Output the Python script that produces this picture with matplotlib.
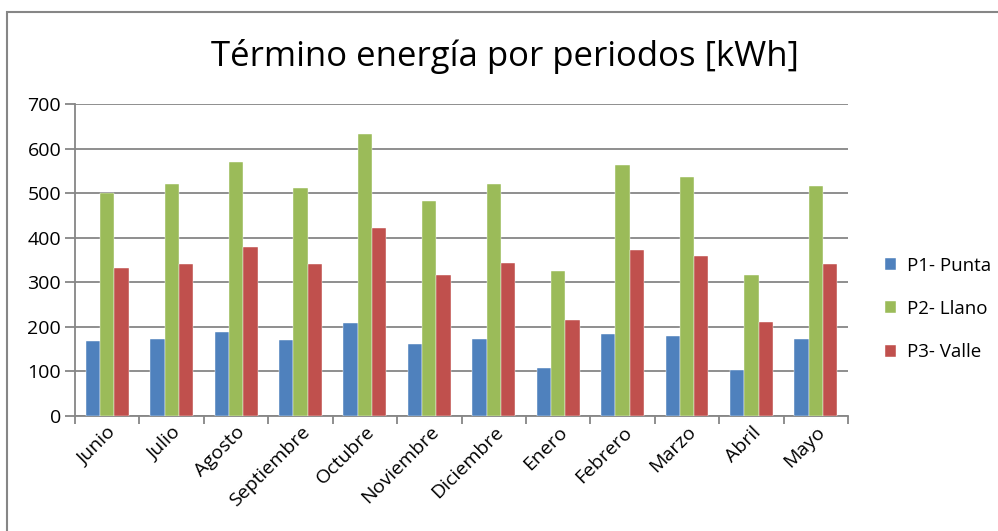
import matplotlib.pyplot as plt
import numpy as np
from matplotlib.patches import Rectangle

plt.rcParams['font.family'] = ['Open Sans', 'DejaVu Sans']

# data
meses = ['Junio', 'Julio', 'Agosto', 'Septiembre', 'Octubre', 'Noviembre',
         'Diciembre', 'Enero', 'Febrero', 'Marzo', 'Abril', 'Mayo']
p1_punta = [168, 173, 189, 171, 208, 161, 173, 108, 184, 180, 103, 173]
p2_llano = [501, 520, 569, 511, 633, 483, 520, 326, 564, 537, 316, 516]
p3_valle = [332, 342, 380, 340, 421, 316, 344, 216, 373, 359, 211, 342]

series = [('P1- Punta', p1_punta, '#4F81BD'),
          ('P2- Llano', p2_llano, '#9BBB59'),
          ('P3- Valle', p3_valle, '#C0504D')]

fig = plt.figure(figsize=(9.98, 5.31), dpi=100)
ax = fig.add_axes([0.0752, 0.2166, 0.7745, 0.5875])

# chart area border (Excel style)
fig.patches.append(Rectangle((7 / 998, -0.1), 1.2, 1 - 12 / 531 + 0.1,
                             transform=fig.transFigure, fill=False,
                             edgecolor='#868686', linewidth=1.5))

x = np.arange(len(meses))
w = 0.222
for i, (name, vals, col) in enumerate(series):
    ax.bar(x + (i - 1) * w, vals, width=w, color=col, label=name,
           edgecolor='white', linewidth=0.3, zorder=3)

ax.set_xlim(-0.5, len(meses) - 0.5)
ax.set_ylim(0, 700)
ax.set_yticks(range(0, 701, 100))
ax.yaxis.grid(True, color='#868686', linewidth=1.3, zorder=0)

# category ticks at group boundaries
ax.set_xticks(np.arange(-0.5, len(meses), 1.0))
ax.set_xticklabels([])
ax.set_xticks(x, minor=True)
ax.set_xticklabels(meses, minor=True, rotation=45, ha='right', va='top',
                   rotation_mode='anchor', fontsize=14)
ax.tick_params(axis='x', which='minor', length=0, pad=5)
ax.tick_params(axis='x', which='major', length=6, color='#868686', width=1.3)
ax.tick_params(axis='y', length=7, color='#868686', width=1.3, labelsize=14, pad=3)

for s in ['top', 'right']:
    ax.spines[s].set_visible(False)
for s in ['left', 'bottom']:
    ax.spines[s].set_color('#868686')
    ax.spines[s].set_linewidth(1.3)

fig.text(0.506, 0.893, 'Término energía por periodos [kWh]', ha='center',
         va='center', fontsize=25)

ax.legend(loc='center left', bbox_to_anchor=(0.870, 0.418),
          bbox_transform=fig.transFigure, frameon=False, fontsize=13.5,
          handlelength=0.6, handleheight=0.6, handletextpad=0.55,
          labelspacing=1.35)

fig.savefig('out.png', dpi=100)
